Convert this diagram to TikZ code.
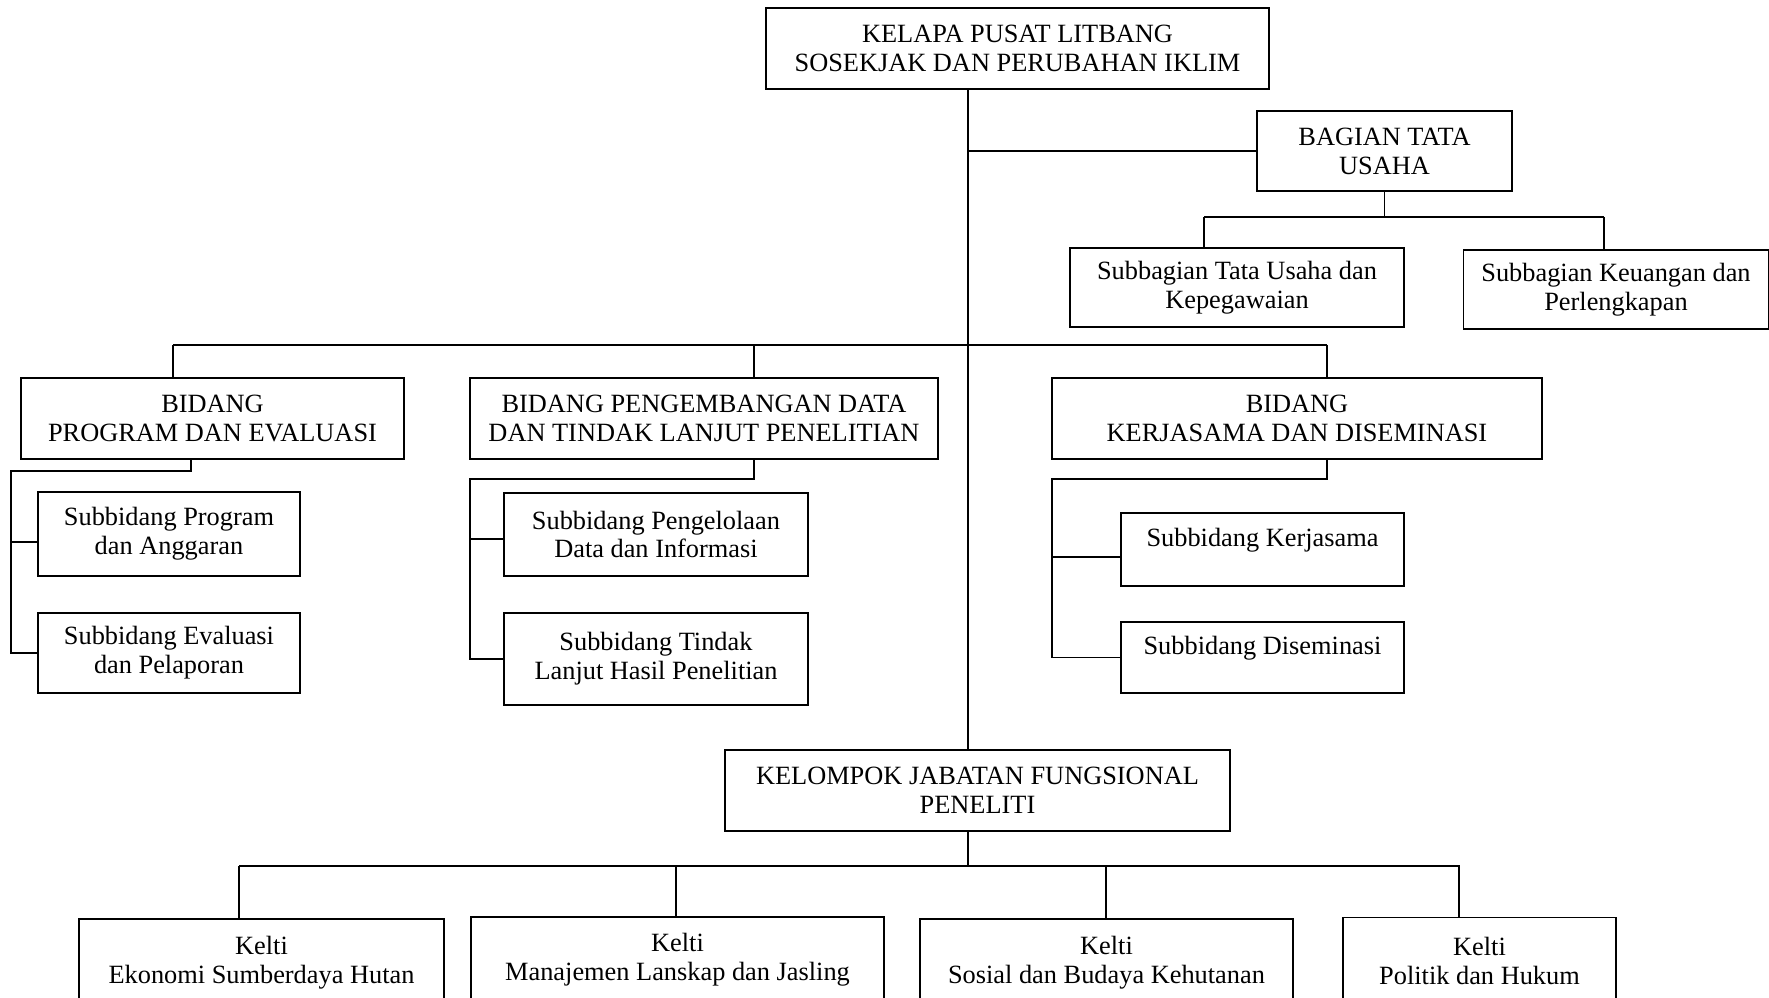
\documentclass[tikz,border=0pt]{standalone}
\usepackage{fontspec}
\setmainfont{Liberation Serif}

\begin{document}
\begin{tikzpicture}[x=0.016cm, y=-0.016cm, line width=0.8pt,
  orgbox/.style 2 args={draw, align=center, inner sep=0pt,
    minimum width=#1*0.016cm, minimum height=#2*0.016cm,
    font=\fontsize{12}{13.2}\selectfont}]
  \useasboundingbox (0,0) rectangle (1769,998);

  \node[orgbox={503}{81}] (head) at (1017.5,48.5) {KELAPA PUSAT LITBANG\\SOSEKJAK DAN PERUBAHAN IKLIM};
  \node[orgbox={255}{80}] (btu) at (1384.5,151) {BAGIAN TATA\\USAHA};
  \node[orgbox={334}{79}] (subTU) at (1237,287.5) {Subbagian Tata Usaha dan\\Kepegawaian};
  \node[orgbox={305}{79}] (subKeu) at (1616,289.5) {Subbagian Keuangan dan\\Perlengkapan};

  \node[orgbox={383}{81}] (bpe) at (212.5,418.5) {BIDANG\\PROGRAM DAN EVALUASI};
  \node[orgbox={468}{81}] (bpd) at (704,418.5) {BIDANG PENGEMBANGAN DATA\\DAN TINDAK LANJUT PENELITIAN};
  \node[orgbox={490}{81}] (bkd) at (1297,418.5) {BIDANG\\KERJASAMA DAN DISEMINASI};

  \node[orgbox={262}{84}] (sProg) at (169,534) {Subbidang Program\\dan Anggaran};
  \node[orgbox={262}{80}] (sEval) at (169,653) {Subbidang Evaluasi\\dan Pelaporan};
  \node[orgbox={304}{83}] (sData) at (656,534.5) {Subbidang Pengelolaan\\Data dan Informasi};
  \node[orgbox={304}{92}] (sTindak) at (656,659) {Subbidang Tindak\\Lanjut Hasil Penelitian};
  \node[orgbox={283}{73}, text depth=11pt] (sKerja) at (1262.5,549.5) {Subbidang Kerjasama};
  \node[orgbox={283}{71}, text depth=11pt] (sDisem) at (1262.5,657.5) {Subbidang Diseminasi};

  \node[orgbox={505}{81}] (kjf) at (977.5,790.5) {KELOMPOK JABATAN FUNGSIONAL\\PENELITI};

  \node[orgbox={365}{87}] (k1) at (261.5,962.5) {Kelti\\Ekonomi Sumberdaya Hutan};
  \node[orgbox={413}{86}] (k2) at (677.5,960) {Kelti\\Manajemen Lanskap dan Jasling};
  \node[orgbox={373}{87}] (k3) at (1106.5,962.5) {Kelti\\Sosial dan Budaya Kehutanan};
  \node[orgbox={273}{87}] (k4) at (1479.5,961) {Kelti\\Politik dan Hukum};

  \coordinate (trunk) at (968,0);
  \draw (head.south -| trunk) -- (kjf.north -| trunk);
  \draw (trunk |- btu.west) -- (btu.west);

  \coordinate (tuL) at (1204,217);
  \coordinate (tuR) at (1604,217);
  \draw (btu.south) -- (btu.south |- tuL);
  \draw (tuL) -- (tuR);
  \draw (tuL) -- (tuL |- subTU.north);
  \draw (tuR) -- (tuR |- subKeu.north);

  \coordinate (bidL) at (173,345);
  \coordinate (bidM) at (754,345);
  \coordinate (bidR) at (1327,345);
  \draw (bidL) -- (bidR);
  \foreach \c/\n in {bidL/bpe, bidM/bpd, bidR/bkd}
    \draw (\c) -- (\c |- \n.north);

  \coordinate (peX) at (191,471);
  \coordinate (peL) at (11,471);
  \coordinate (peS) at (11,542);
  \draw (peX |- bpe.south) -- (peX) -- (peL) |- (sEval.west);
  \draw (peS) -- (peS -| sProg.west);

  \coordinate (pdX) at (754,479);
  \coordinate (pdL) at (470,479);
  \coordinate (pdS) at (470,539);
  \draw (pdX |- bpd.south) -- (pdX) -- (pdL) |- (sTindak.west);
  \draw (pdS) -- (pdS -| sData.west);

  \coordinate (kdX) at (1327,479);
  \coordinate (kdL) at (1052,479);
  \coordinate (kdS) at (1052,557);
  \draw (kdX |- bkd.south) -- (kdX) -- (kdL) |- (sDisem.west);
  \draw (kdS) -- (kdS -| sKerja.west);

  \coordinate (kelL) at (239,866);
  \coordinate (kelR) at (1460,866);
  \draw (kjf.south -| trunk) -- (trunk |- kelL);
  \draw (kelL) -- (kelR);
  \coordinate (d1) at (239,866);
  \coordinate (d2) at (676,866);
  \coordinate (d3) at (1106,866);
  \coordinate (d4) at (1459,866);
  \foreach \d/\n in {d1/k1, d2/k2, d3/k3, d4/k4}
    \draw (\d) -- (\d |- \n.north);
\end{tikzpicture}
\end{document}
